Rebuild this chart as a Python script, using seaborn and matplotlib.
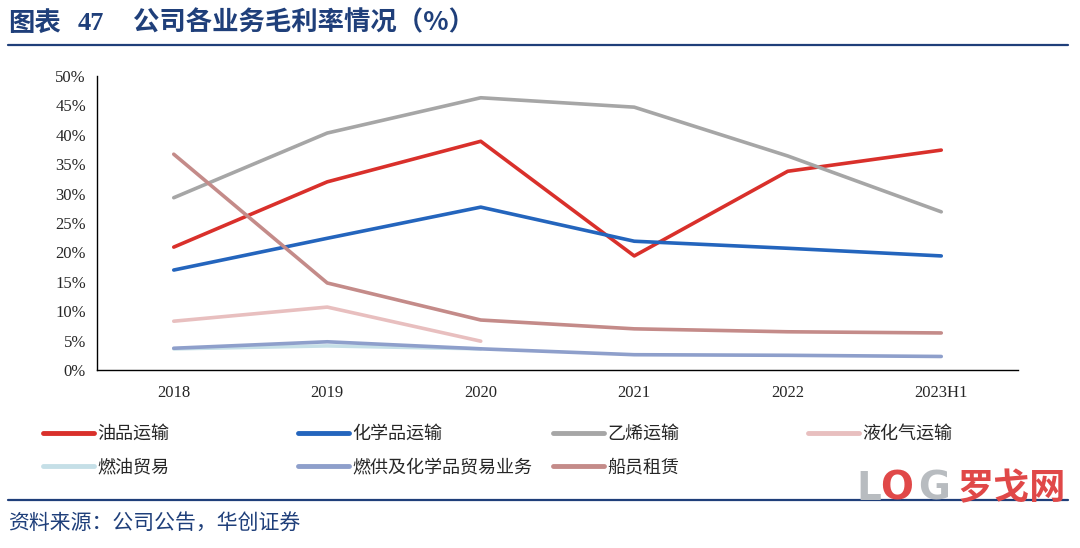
import numpy as np
import pandas as pd
import matplotlib
matplotlib.use("Agg")
import matplotlib.pyplot as plt
import seaborn as sns
from matplotlib.lines import Line2D
from matplotlib.ticker import PercentFormatter, FixedLocator

# data (%)
years = ["2018", "2019", "2020", "2021", "2022", "2023H1"]
oil = [20.9, 32.0, 38.9, 19.4, 33.8, 37.4]
chem = [17.0, 22.4, 27.7, 21.9, 20.7, 19.4]
ethylene = [29.3, 40.3, 46.3, 44.7, 36.4, 26.9]
lpg = [8.3, 10.7, 4.9, np.nan, np.nan, np.nan]
fuel_trade = [3.6, 4.1, 3.6, np.nan, np.nan, np.nan]
bunker_chem_trade = [3.7, 4.8, 3.6, 2.6, 2.5, 2.3]
crew_lease = [36.7, 14.8, 8.5, 7.0, 6.5, 6.3]

series_names = ["油品运输", "化学品运输", "乙烯运输", "液化气运输",
                "燃油贸易", "燃供及化学品贸易业务", "船员租赁"]
series_vals = [oil, chem, ethylene, lpg, fuel_trade, bunker_chem_trade, crew_lease]
colors = ["#D9302B", "#2465BD", "#A6A6A6", "#E8BFBF",
          "#C5DFE7", "#8E9FCB", "#C48B89"]

rows = []
for name, vals in zip(series_names, series_vals):
    for i, v in enumerate(vals):
        rows.append({"x": i, "year": years[i], "series": name, "value": v})
df = pd.DataFrame(rows).dropna()

sns.set_style("white")
plt.rcParams["font.family"] = ["Liberation Serif", "Noto Sans CJK SC"]

fig = plt.figure(figsize=(10.8, 5.48), dpi=100)
ax = fig.add_axes([97 / 1080, 1 - 370 / 548, 921 / 1080, 294 / 548])

sns.lineplot(data=df, x="x", y="value", hue="series", hue_order=series_names,
             palette=dict(zip(series_names, colors)), linewidth=2.6,
             ax=ax, legend=False, sort=False)

ax.set_xlim(-0.5, len(years) - 0.5)
ax.set_ylim(0, 50)
ax.yaxis.set_major_locator(FixedLocator(np.arange(0, 51, 5)))
ax.yaxis.set_major_formatter(PercentFormatter(decimals=0))

ax.xaxis.set_major_locator(FixedLocator(np.arange(-0.5, len(years), 1)))
ax.set_xticklabels([])
ax.set_xticks(range(len(years)), minor=True)
ax.set_xticklabels(years, minor=True)
ax.tick_params(axis="x", which="major", direction="out", length=5, width=1, color="black")
ax.tick_params(axis="x", which="minor", length=0, pad=11, labelsize=12)
ax.tick_params(axis="y", direction="out", length=4, width=1, color="black", labelsize=12, pad=4)
ax.set_xlabel("")
ax.set_ylabel("")
for side in ["top", "right"]:
    ax.spines[side].set_visible(False)
for side in ["left", "bottom"]:
    ax.spines[side].set_color("black")
    ax.spines[side].set_linewidth(1)
ax.grid(False)

# legend: 4 evenly spaced columns, 2 rows (row-major)
handles = [Line2D([0], [0], color=c, lw=3.5) for c in colors]
col_x = [36, 291, 546, 801]
for c in range(4):
    idx = [i for i in (c, c + 4) if i < len(series_names)]
    lg = fig.legend([handles[i] for i in idx], [series_names[i] for i in idx],
                    loc="upper left", bbox_to_anchor=(col_x[c] / 1080, 1 - 418 / 548),
                    ncol=1, frameon=False, handlelength=2.8, borderaxespad=0,
                    handletextpad=0.2, labelspacing=0.85,
                    prop={"family": ["Noto Sans CJK SC"], "size": 13})

title_col = "#1F3F7A"
fig.text(8 / 1080, 1 - 23 / 548, "图表", color=title_col,
         fontsize=19, fontweight="bold", va="center", ha="left",
         family=["Noto Sans CJK SC"])
fig.text(78 / 1080, 1 - 23 / 548, "47", color=title_col,
         fontsize=19, fontweight="bold", va="center", ha="left",
         family=["Liberation Serif"])
fig.text(133 / 1080, 1 - 23 / 548, "公司各业务毛利率情况（%）", color=title_col,
         fontsize=19, fontweight="bold", va="center", ha="left",
         family=["Noto Sans CJK SC"])
fig.add_artist(Line2D([8 / 1080, 1068 / 1080], [1 - 45 / 548] * 2, color=title_col, lw=1.6))
fig.add_artist(Line2D([8 / 1080, 1068 / 1080], [1 - 500 / 548] * 2, color=title_col, lw=1.6))
fig.text(8 / 1080, 1 - 523 / 548, "资料来源：公司公告，华创证券", color=title_col,
         fontsize=15, va="center", ha="left",
         family=["Noto Sans CJK SC"])

# watermark
fig.text(856 / 1080, 1 - 489 / 548, "L", color="#B8BCC0", fontsize=28, fontweight="bold",
         va="center", ha="left", family=["DejaVu Sans"])
fig.text(880 / 1080, 1 - 489 / 548, "O", color="#E04848", fontsize=28, fontweight="bold",
         va="center", ha="left", family=["DejaVu Sans"])
fig.text(918 / 1080, 1 - 489 / 548, "G", color="#B8BCC0", fontsize=28, fontweight="bold",
         va="center", ha="left", family=["DejaVu Sans"])
fig.text(958 / 1080, 1 - 489 / 548, "罗戈网", color="#E04848", fontsize=26, fontweight="bold",
         va="center", ha="left", family=["Noto Sans CJK SC"])

fig.savefig("out.png", dpi=100)
